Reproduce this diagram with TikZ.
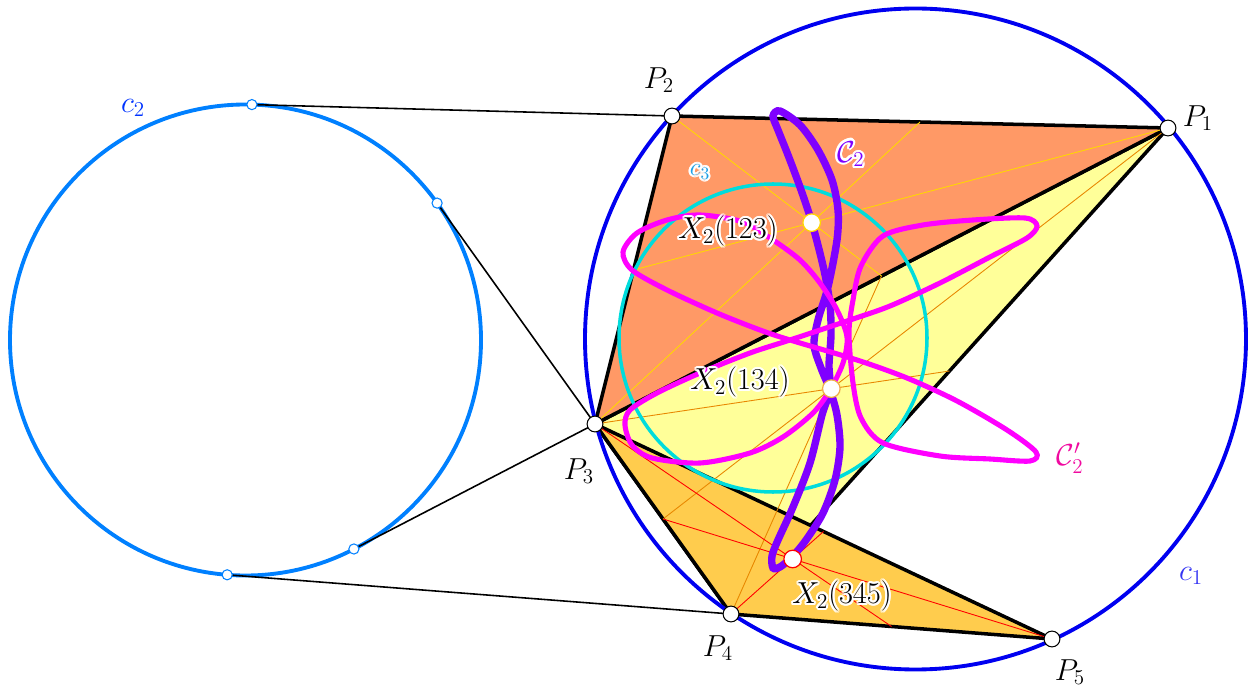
\documentclass[tikz,border=0pt]{standalone}
\usepackage{tikz}
\usepackage{contour}
\usetikzlibrary{calc}
\contourlength{1.2pt}

\definecolor{cOne}{RGB}{0,0,240}
\definecolor{cTwo}{RGB}{0,128,255}
\definecolor{cThree}{RGB}{0,220,220}
\definecolor{fOneTwoThree}{RGB}{255,153,102}
\definecolor{fOneThreeFour}{RGB}{255,255,153}
\definecolor{fThreeFourFive}{RGB}{255,204,77}
\definecolor{mGold}{RGB}{255,215,0}
\definecolor{mOrange}{RGB}{232,135,0}
\definecolor{curvePurple}{RGB}{127,0,255}
\definecolor{curveMagenta}{RGB}{255,0,255}
\definecolor{labelPink}{RGB}{240,10,160}
\definecolor{labelSky}{RGB}{30,160,230}

\begin{document}
\begin{tikzpicture}[x=0.02cm,y=-0.02cm,
  edge/.style={line width=2pt,line join=round},
  vertex/.style={circle,draw=black,fill=white,line width=0.6pt,inner sep=0pt,minimum size=9pt},
  touch/.style={circle,draw=cTwo,fill=white,line width=0.6pt,inner sep=0pt,minimum size=5.8pt},
  centroid/.style={circle,draw=#1,fill=white,line width=0.7pt,inner sep=0pt,minimum size=10pt},
  lbl/.style={font=\fontsize{17.28}{20}\selectfont},
  smalllbl/.style={font=\fontsize{14.4}{17}\selectfont}]

\useasboundingbox (0,0) rectangle (1248,692);

\coordinate (P1) at (1168,128);
\coordinate (P2) at (672,116);
\coordinate (P3) at (595,424);
\coordinate (P4) at (731,614);
\coordinate (P5) at (1052,639);
\coordinate (O1) at (915.5,339);
\coordinate (O2) at (245.5,340);
\coordinate (O3) at (773,338);

\coordinate (T2) at (251.9,104.6);
\coordinate (T3a) at (437.1,203.1);
\coordinate (T3b) at (353.9,549.0);
\coordinate (T4) at (227.2,574.8);

\draw[cTwo,line width=2.2pt] (O2) circle (235.5);
\draw[line width=0.9pt] (T2) -- (P2);
\draw[line width=0.9pt] (T3a) -- (P3) -- (T3b);
\draw[line width=0.9pt] (T4) -- (P4);

\filldraw[fill=fOneThreeFour,edge] (P1) -- (P3) -- (P4) -- cycle;
\filldraw[fill=fOneTwoThree,edge] (P1) -- (P2) -- (P3) -- cycle;
\filldraw[fill=fThreeFourFive,edge] (P3) -- (P4) -- (P5) -- cycle;

\coordinate (G123) at (barycentric cs:P1=1,P2=1,P3=1);
\coordinate (G134) at (barycentric cs:P1=1,P3=1,P4=1);
\coordinate (G345) at (barycentric cs:P3=1,P4=1,P5=1);

\draw[mGold,line width=0.5pt] (P1) -- ($(P2)!.5!(P3)$)
  (P2) -- ($(P1)!.5!(P3)$) (P3) -- ($(P1)!.5!(P2)$);
\draw[mOrange,line width=0.5pt] (P1) -- ($(P3)!.5!(P4)$)
  (P3) -- ($(P1)!.5!(P4)$) (P4) -- ($(P1)!.5!(P3)$);
\draw[red,line width=0.5pt] (P3) -- ($(P4)!.5!(P5)$)
  (P4) -- ($(P3)!.5!(P5)$) (P5) -- ($(P3)!.5!(P4)$);

\draw[cOne,line width=2.2pt] (O1) circle (330.5);
\draw[cThree,line width=2pt] (O3) circle (154);

\draw[curvePurple,line width=4.2pt] plot[smooth cycle] coordinates {
  (780,111) (800,125) (818,150) (832,180) (838,210) (837,240)
  (828,287) (818,320) (814,345) (821,368) (830,390) (837,415)
  (840,447) (835,480) (823,513) (806,540) (792,557) (780,567) (773,568)
  (772,556) (778,540) (793,507) (810,463) (822,415) (830,390) (829,365)
  (831,335) (830,305) (824,270) (812,223) (800,187) (788,155)
  (778,130) (773,116)};

\draw[curveMagenta,line width=2.9pt] plot[smooth cycle] coordinates {
  (623,252) (632,270) (667,290) (717,313) (760,330) (790,340) (857,360)
  (907,378) (957,401) (1007,430) (1036,452) (1030,461) (990,459) (940,456)
  (883,443) (861,418) (853,383) (849,333) (853,300) (861,266) (883,236)
  (923,225) (973,220) (1025,218) (1037,226) (1027,238) (990,257) (940,283)
  (890,306) (850,320) (790,340) (750,353) (700,373) (657,393) (630,410)
  (625,425) (632,445) (652,458) (700,463) (750,453) (783,437) (813,413)
  (830,390) (843,363) (847,337) (837,310) (820,283) (800,260) (773,240)
  (743,222) (700,215) (667,220) (637,233)};

\node[touch] (t2) at (T2) {};
\node[touch] (t3a) at (T3a) {};
\node[touch] (t3b) at (T3b) {};
\node[touch] (t4) at (T4) {};

\foreach \i in {1,...,5}
  \node[vertex] (v\i) at (P\i) {};

\node[centroid=mGold] (x123) at (G123) {};
\node[centroid=mOrange!70] (x134) at (G134) {};
\node[centroid=red] (x345) at (G345) {};

\node[lbl] (lP1) at (1198,118) {$P_1$};
\node[lbl] (lP2) at (659,80) {$P_2$};
\node[lbl] (lP3) at (579,471) {$P_3$};
\node[lbl] (lP4) at (718,648) {$P_4$};
\node[lbl] (lP5) at (1070,672) {$P_5$};

\node[lbl,text=cOne!80!white] (lc1) at (1191,576) {$c_1$};
\node[lbl,text=cTwo!40!blue] (lc2) at (133,108) {$c_2$};
\node[smalllbl,text=labelSky] (lc3) at (700,173) {\contour{white}{$c_3$}};
\node[lbl,text=curvePurple] (lC2) at (851,155) {\contour{white}{$\mathcal{C}_2$}};
\node[lbl,text=labelPink] (lC2p) at (1070,458) {$\mathcal{C}'_2$};

\node[lbl] (lx123) at (728,232) {\contour{white}{$X_2(123)$}};
\node[lbl] (lx134) at (740,383) {\contour{white}{$X_2(134)$}};
\node[lbl] (lx345) at (842,597) {\contour{white}{$X_2(345)$}};

\end{tikzpicture}
\end{document}
